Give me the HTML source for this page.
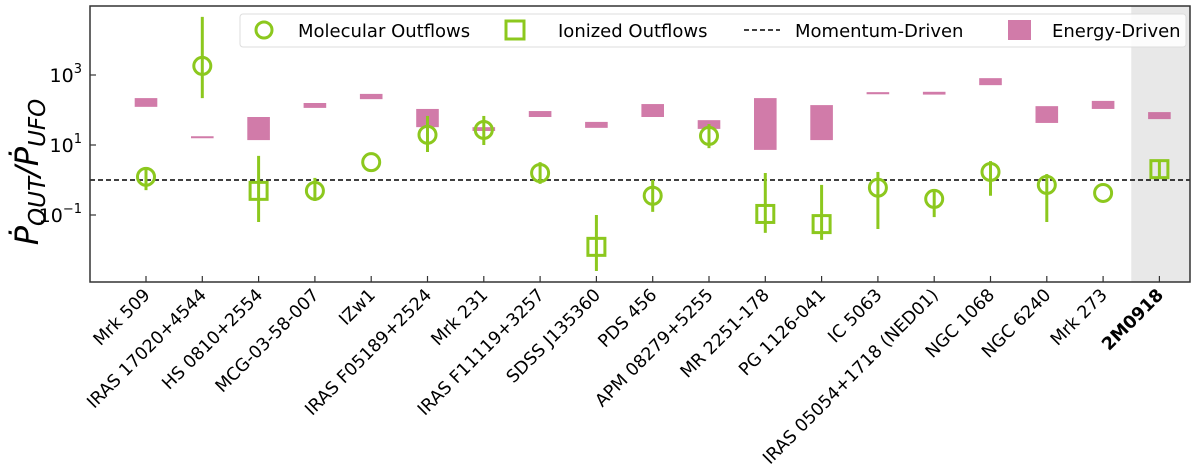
<!DOCTYPE html>
<html><head><meta charset="utf-8"><style>
body{margin:0;background:#fff;overflow:hidden;}
svg{display:block;font-family:"DejaVu Sans","Liberation Sans",sans-serif;}
</style></head><body>
<svg id="chart" width="1200" height="465" viewBox="0 0 1200 465"></svg>
<script>
const categories=["Mrk 509","IRAS 17020+4544","HS 0810+2554","MCG-03-58-007","IZw1","IRAS F05189+2524","Mrk 231","IRAS F11119+3257","SDSS J135360","PDS 456","APM 08279+5255","MR 2251-178","PG 1126-041","IC 5063","IRAS 05054+1718 (NED01)","NGC 1068","NGC 6240","Mrk 273","2M0918"];
// log10 values
const energyLow=[2.09,1.21,1.14,2.06,2.31,1.51,1.40,1.80,1.49,1.80,1.46,0.86,1.14,2.45,2.44,2.71,1.63,2.03,1.74];
const energyHigh=[2.34,1.25,1.80,2.20,2.46,2.03,1.51,1.97,1.66,2.17,1.71,2.34,2.14,2.51,2.52,2.91,2.11,2.26,1.94];
const molIdx=[0,1,3,4,5,6,7,9,10,13,14,15,16,17];
const molVal=[0.09,3.26,-0.31,0.51,1.29,1.43,0.20,-0.45,1.26,-0.22,-0.54,0.23,-0.14,-0.37];
const molHi=[0.37,4.66,0.06,0.51,1.83,1.83,0.51,0.00,1.60,0.23,-0.29,0.54,0.17,-0.37];
const molLo=[-0.29,2.34,-0.60,0.51,0.80,1.00,-0.11,-0.91,0.91,-1.40,-1.06,-0.45,-1.20,-0.37];
const ionIdx=[2,8,11,12,18];
const ionVal=[-0.31,-1.91,-0.97,-1.26,0.31];
const ionHi=[0.69,-1.00,0.20,-0.14,0.57];
const ionLo=[-1.20,-2.60,-1.51,-1.71,0.03];
const yTicks=[-1,1,3];

const NS="http://www.w3.org/2000/svg";
const svg=document.getElementById('chart');
const L=90,R=1190,T=6,B=282;
const xs=i=>146+i*56.3;
const ys=v=>180-35*v;
const G="#8cc81e",P="rgba(196,86,145,0.78)";
function mk(tag,attrs,parent){const e=document.createElementNS(NS,tag);for(const k in attrs)e.setAttribute(k,attrs[k]);(parent||svg).appendChild(e);return e;}

const band=mk('rect',{x:xs(17.5),y:T,width:R-xs(17.5),height:B-T,fill:'#e8e8e8'});



const mline=mk('line',{x1:L,x2:R,y1:ys(0),y2:ys(0),stroke:'#000','stroke-width':1.5,'stroke-dasharray':'5,3'});



categories.forEach((c,i)=>{
  const y1=ys(energyHigh[i]),y2=ys(energyLow[i]);
  const r=mk('rect',{x:xs(i)-11.3,y:y1,width:22.6,height:Math.max(2,y2-y1),fill:P});
  
  
  const t=mk('line',{x1:xs(i),x2:xs(i),y1:B,y2:B-6,stroke:'#333','stroke-width':1.2});
  
  
  const lab=mk('text',{x:0,y:0,transform:`translate(${xs(i)+5},${B+14}) rotate(-45)`,'text-anchor':'end','font-size':17.5,fill:'#000','font-weight':i==18?'bold':'normal'});
  lab.textContent=c;
  
  
});

molIdx.forEach((i,k)=>{
  const e=mk('line',{x1:xs(i),x2:xs(i),y1:ys(molHi[k]),y2:ys(molLo[k]),stroke:G,'stroke-width':3});
  
  
  const c=mk('circle',{cx:xs(i),cy:ys(molVal[k]),r:8.5,fill:'none',stroke:G,'stroke-width':3});
  
  
});
ionIdx.forEach((i,k)=>{
  const e=mk('line',{x1:xs(i),x2:xs(i),y1:ys(ionHi[k]),y2:ys(ionLo[k]),stroke:G,'stroke-width':3});
  
  
  const s=mk('rect',{x:xs(i)-8.5,y:ys(ionVal[k])-8.5,width:17,height:17,fill:'none',stroke:G,'stroke-width':3});
  
  
});

yTicks.forEach(v=>{
  const t=mk('line',{x1:L,x2:L+6,y1:ys(v),y2:ys(v),stroke:'#333','stroke-width':1.2});
  
  
  const tx=mk('text',{x:L-8,y:ys(v)+7,'text-anchor':'end','font-size':19});
  
  
  tx.appendChild(document.createTextNode('10'));
  const sp=mk('tspan',{dy:-9,'font-size':13},tx);sp.textContent=String(v).replace('-','−');
});

const frame=mk('rect',{x:L,y:T,width:R-L,height:B-T,fill:'none',stroke:'#333','stroke-width':1.5});



const yl=mk('text',{transform:'translate(38,172) rotate(-90)','text-anchor':'middle','font-size':32,'font-style':'italic'});


yl.appendChild(document.createTextNode('Ṗ'));
const s1=mk('tspan',{dy:7,'font-size':23},yl);s1.textContent='OUT';
const s2=mk('tspan',{dy:-7},yl);s2.textContent='/Ṗ';
const s3=mk('tspan',{dy:7,'font-size':23},yl);s3.textContent='UFO';

const lg=mk('g',{});


mk('rect',{x:240,y:14,width:946,height:33,rx:3,fill:'rgba(255,255,255,0.85)',stroke:'#ddd'},lg);
mk('circle',{cx:264,cy:30,r:8,fill:'none',stroke:G,'stroke-width':3},lg);
const t1=mk('text',{x:298,y:37,'font-size':18},lg);t1.textContent='Molecular Outflows';
mk('rect',{x:506,y:21,width:18,height:18,fill:'none',stroke:G,'stroke-width':3},lg);
const t2=mk('text',{x:558,y:37,'font-size':18},lg);t2.textContent='Ionized Outflows';
mk('line',{x1:744,x2:780,y1:30,y2:30,stroke:'#000','stroke-width':1.5,'stroke-dasharray':'5,3'},lg);
const t3=mk('text',{x:795,y:37,'font-size':18},lg);t3.textContent='Momentum-Driven';
mk('rect',{x:1008,y:20,width:23,height:20,fill:P},lg);
const t4=mk('text',{x:1052,y:37,'font-size':18},lg);t4.textContent='Energy-Driven';
</script>
</body></html>
